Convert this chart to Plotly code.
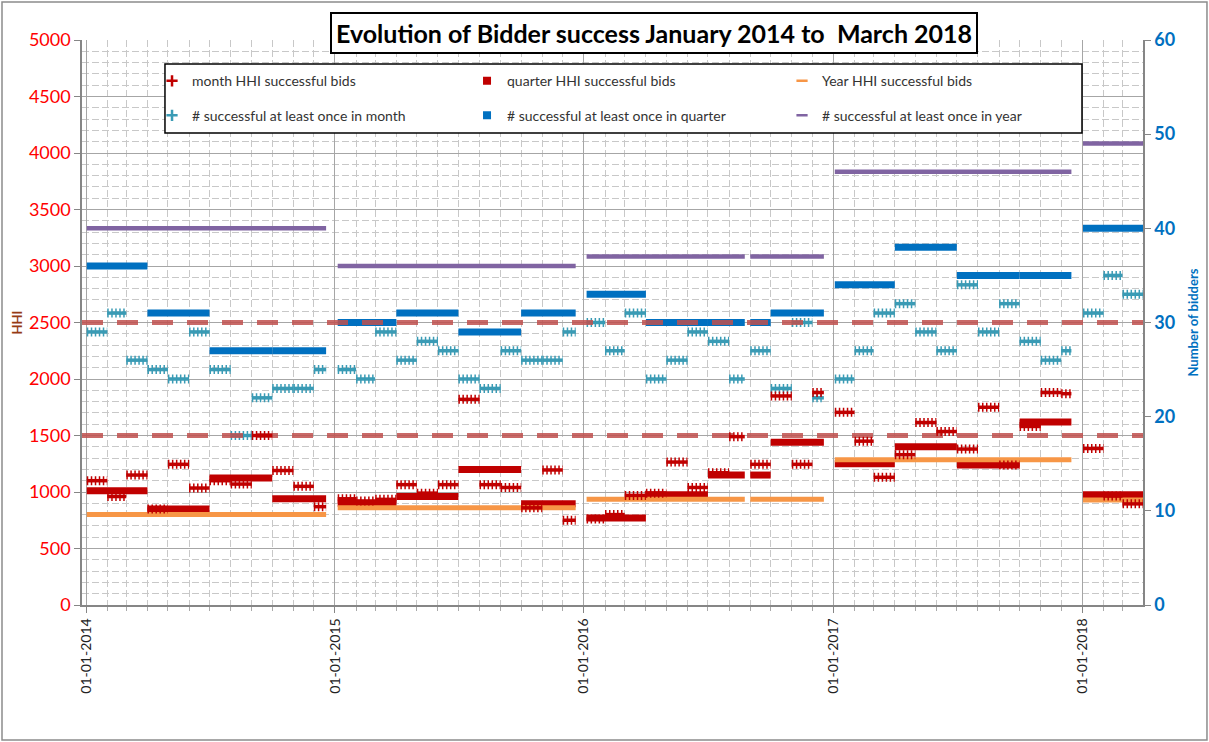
import pandas as pd
import plotly.graph_objects as go

# ---- data ----
MONTHS = pd.date_range("2014-01-01", "2018-03-01", freq="MS")
QUARTERS = pd.date_range("2014-01-01", "2018-01-01", freq="QS")
YEARS = pd.to_datetime(["2014-01-01", "2015-01-01", "2016-01-01", "2017-01-01", "2018-01-01"])

# first / last day with bids in each year, and one stretch without data
YEAR_FIRST = ["2014-01-02", "2015-01-05", "2016-01-05", "2017-01-03", "2018-01-02"]
YEAR_LAST = ["2014-12-19", "2015-12-20", "2016-12-18", "2017-12-16", "2018-03-31"]
GAP = ("2016-08-24", "2016-09-01")

month_hhi = [1100, 960, 1150, 850, 1245, 1035, 1100, 1070, 1500, 1190, 1050, 870,
             940, 920, 935, 1065, 990, 1065, 1820, 1065, 1040, 860, 1195, 750,
             760, 800, 970, 990, 1265, 1040, 1170, 1490, 1245, 1850, 1245, 1880,
             1705, 1450, 1130, 1330, 1615, 1535, 1380, 1750, 1240, 1580, 1880, 1870,
             1385, 965, 895]
quarter_hhi = [1010, 850, 1125, 940,
               900, 960, 1200, 895,
               770, 975, 1150, 1440,
               1250, 1400, 1240, 1620,
               975]
year_hhi = [800, 860, 935, 1285, 930]

month_n = [29, 31, 26, 25, 24, 29, 25, 18, 22, 23, 23, 25,
           25, 24, 29, 26, 28, 27, 24, 23, 27, 26, 26, 29,
           30, 27, 31, 24, 26, 29, 28, 24, 27, 23, 30, 22,
           24, 27, 31, 32, 29, 27, 34, 29, 32, 28, 26, 27,
           31, 35, 33]
quarter_n = [36, 31, 27, 27,
             30, 31, 29, 31,
             33, 30, 30, 31,
             34, 38, 35, 35,
             40]
year_n = [40, 36, 37, 46, 49]

THRESHOLDS = [1500, 2500]
X_RANGE = ["2013-12-26", "2018-03-31"]

C_RED = "#C00000"
C_ORANGE = "#F79646"
C_TEAL = "#3A9BB5"
C_BLUE = "#0070C0"
C_PURPLE = "#8064A2"
FONT = "Lato"


def segments(starts, ends, values):
    g0, g1 = pd.Timestamp(GAP[0]), pd.Timestamp(GAP[1])
    xs, ys = [], []
    for s, e, v in zip(starts, ends, values):
        yr = s.year - 2014
        s = max(s, pd.Timestamp(YEAR_FIRST[yr]))
        e = min(e, pd.Timestamp(YEAR_LAST[yr]))
        parts = [(s, e)]
        if s < g0 < e:
            parts = [(s, g0), (max(g1, s), e)]
        for a, b in parts:
            if b > a:
                xs += [a.strftime("%Y-%m-%d"), b.strftime("%Y-%m-%d"), None]
                ys += [v, v, None]
    return xs, ys


mx, my_hhi = segments(MONTHS, MONTHS + pd.DateOffset(months=1), month_hhi)
_, my_n = segments(MONTHS, MONTHS + pd.DateOffset(months=1), month_n)
qx, qy_hhi = segments(QUARTERS, QUARTERS + pd.DateOffset(months=3), quarter_hhi)
_, qy_n = segments(QUARTERS, QUARTERS + pd.DateOffset(months=3), quarter_n)
yx, yy_hhi = segments(YEARS, YEARS + pd.DateOffset(years=1), year_hhi)
_, yy_n = segments(YEARS, YEARS + pd.DateOffset(years=1), year_n)

fig = go.Figure()

# numbers of bidders (right axis)
fig.add_trace(go.Scatter(x=qx, y=qy_n, yaxis="y2", mode="lines",
                         line=dict(color=C_BLUE, width=7), showlegend=False))
fig.add_trace(go.Scatter(x=yx, y=yy_n, yaxis="y2", mode="lines",
                         line=dict(color=C_PURPLE, width=4.5), showlegend=False))
fig.add_trace(go.Scatter(x=mx, y=my_n, yaxis="y2", mode="lines",
                         line=dict(color=C_TEAL, width=3.5), showlegend=False))
fig.add_trace(go.Scatter(x=mx, y=my_n, yaxis="y2", mode="lines",
                         line=dict(color=C_TEAL, width=9, dash="1.5px,2.5px"), showlegend=False))

# HHI (left axis)
fig.add_trace(go.Scatter(x=qx, y=qy_hhi, mode="lines",
                         line=dict(color=C_RED, width=7), showlegend=False))
fig.add_trace(go.Scatter(x=yx, y=yy_hhi, mode="lines",
                         line=dict(color=C_ORANGE, width=5), showlegend=False))
tx, ty = [], []
for t in THRESHOLDS:
    tx += [X_RANGE[0], X_RANGE[1], None]
    ty += [t, t, None]
fig.add_trace(go.Scatter(x=tx, y=ty, mode="lines", hoverinfo="skip",
                         line=dict(color="rgba(192,80,77,0.85)", width=5, dash="21px,14px"),
                         showlegend=False))
fig.add_trace(go.Scatter(x=mx, y=my_hhi, mode="lines",
                         line=dict(color=C_RED, width=3.5), showlegend=False))
fig.add_trace(go.Scatter(x=mx, y=my_hhi, mode="lines",
                         line=dict(color=C_RED, width=9, dash="1.5px,2.5px"), showlegend=False))

# legend entries (two rows, three columns)
legend_items = [
    ("month HHI successful bids", C_RED, "cross-thin", "legend"),
    ("quarter HHI successful bids", C_RED, "square", "legend"),
    ("Year HHI successful bids", C_ORANGE, "line-ew", "legend"),
    ("# successful at least once in month", C_TEAL, "cross-thin", "legend2"),
    ("# successful at least once in quarter", C_BLUE, "square", "legend2"),
    ("# successful at least once in year", C_PURPLE, "line-ew", "legend2"),
]
for name, col, sym, leg in legend_items:
    fig.add_trace(go.Scatter(
        x=[None], y=[None], mode="markers", name=name, legend=leg,
        marker=dict(symbol=sym, size=8, color=col, line=dict(color=col, width=2.5 if sym != "square" else 0)),
    ))

leg_style = dict(orientation="h", xanchor="left", yanchor="middle", x=0.066,
                 entrywidth=270, bgcolor="rgba(0,0,0,0)", borderwidth=0,
                 font=dict(family=FONT, size=14, color="#333333"))

fig.update_layout(
    width=1209, height=742,
    margin=dict(l=82, r=66, t=40, b=137),
    paper_bgcolor="white", plot_bgcolor="white",
    font=dict(family=FONT),
    legend=dict(leg_style, y=0.927),
    legend2=dict(leg_style, y=0.866),
    xaxis=dict(
        type="date", range=X_RANGE, dtick="M12", tick0="2014-01-01",
        tickformat="%d-%m-%Y", tickangle=-90,
        tickfont=dict(family=FONT, size=14, color="#222222"),
        showgrid=True, gridcolor="#a6a6a6", gridwidth=1.3,
        showline=True, linecolor="#868686", linewidth=1.5,
        ticks="outside", ticklen=6, tickcolor="#868686",
        minor=dict(dtick="M1", showgrid=True, gridcolor="#c8c8c8", griddash="7px,3px",
                   ticks="outside", ticklen=4, tickcolor="#aaaaaa"),
    ),
    yaxis=dict(
        range=[0, 5000], dtick=500, overlaying="y2", side="left",
        tickfont=dict(family=FONT, size=18, color="#FF0000"),
        showgrid=True, gridcolor="#a6a6a6", gridwidth=1.3,
        showline=True, linecolor="#868686", linewidth=1.5,
        ticks="outside", ticklen=6, tickcolor="#868686", zeroline=False,
        minor=dict(dtick=100, showgrid=True, gridcolor="#c8c8c8", griddash="7px,3px"),
    ),
    yaxis2=dict(
        range=[0, 60], dtick=10, side="right", showgrid=False, zeroline=False,
        tickfont=dict(family=FONT, size=18, color=C_BLUE, weight="bold"),
        showline=True, linecolor="#868686", linewidth=1.5,
        ticks="outside", ticklen=6, tickcolor="#868686",
    ),
    shapes=[
        # chart area border
        dict(type="rect", xref="paper", yref="paper", x0=-0.0754, x1=1.0603, y0=-0.239, y1=1.0673,
             line=dict(color="#8c8c8c", width=1.5), layer="below"),
        # legend box
        dict(type="rect", xref="paper", yref="paper", x0=0.0782, x1=0.9425, y0=0.8354, y1=0.9575,
             fillcolor="white", line=dict(color="black", width=1.5), layer="above"),
    ],
    annotations=[
        dict(text="Evolution of Bidder success January 2014 to \u00a0March 2018",
             xref="paper", yref="paper", x=0.539, y=1.0124, xanchor="center", yanchor="middle",
             showarrow=False, font=dict(family=FONT, size=25, color="black", weight="bold"),
             bgcolor="white", bordercolor="black", borderwidth=2, borderpad=4),
        dict(text="HHI", xref="paper", yref="paper", x=-0.0613, y=0.5, textangle=-90,
             xanchor="center", yanchor="middle",
             showarrow=False, font=dict(family=FONT, size=13, color="#953B14", weight="bold")),
        dict(text="Number of bidders", xref="paper", yref="paper", x=1.0462, y=0.5, textangle=-90,
             xanchor="center", yanchor="middle",
             showarrow=False, font=dict(family=FONT, size=13, color=C_BLUE, weight="bold")),
    ],
)

fig.write_html("out.html", config={"displayModeBar": False},
               post_script="document.body.style.margin='0';")
